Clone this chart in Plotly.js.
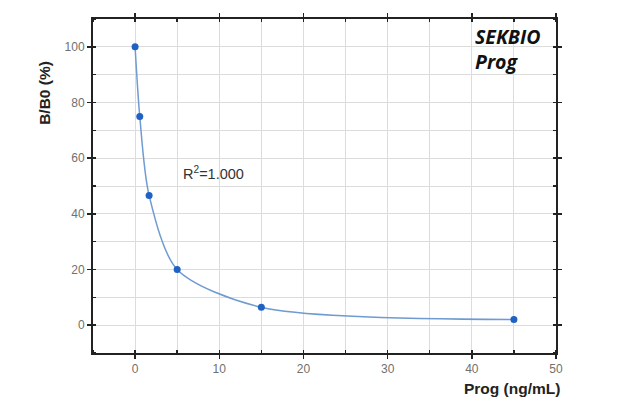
<!DOCTYPE html>
<html>
<head>
<meta charset="utf-8">
<script src="https://cdn.plot.ly/plotly-3.0.1.min.js"></script>
<style>html,body{margin:0;padding:0;background:#fff;}#chart{width:631px;height:406px;}</style>
</head>
<body>
<div id="chart"></div>
<script>
// Data
const concentration = [0, 0.556, 1.667, 5, 15, 45];   // Prog (ng/mL)
const bOverB0 = [100, 75, 46.6, 20, 6.4, 2.0];         // B/B0 (%)
const xTickVals = [0, 10, 20, 30, 40, 50];
const yTickVals = [0, 20, 40, 60, 80, 100];

const curve = {
  x: concentration, y: bOverB0, type: 'scatter', mode: 'lines',
  line: {shape: 'spline', smoothing: 0.8, color: '#6f9bd1', width: 1.5},
  hoverinfo: 'skip', showlegend: false
};
const pts = {
  x: concentration, y: bOverB0, type: 'scatter', mode: 'markers',
  marker: {color: '#1f62c4', size: 7}, showlegend: false
};

const axisCommon = {
  showline: true, linecolor: '#222', linewidth: 2, mirror: 'ticks',
  ticks: 'outside', ticklen: 4, tickwidth: 1.5, tickcolor: '#222',
  gridcolor: '#dcdcdc', gridwidth: 1, zeroline: false,
  tickfont: {family: 'Liberation Sans, Arial, sans-serif', size: 12, color: '#707070'}
};

const layout = {
  width: 631, height: 406,
  margin: {l: 93, r: 75, t: 19, b: 53},
  paper_bgcolor: '#fff', plot_bgcolor: '#fff',
  xaxis: Object.assign({}, axisCommon, {
    range: [-5, 50], tickvals: xTickVals,
    minor: {dtick: 5, tick0: 0, ticks: 'inside', ticklen: 3, tickcolor: '#222', showgrid: true, gridcolor: '#dcdcdc'}
  }),
  yaxis: Object.assign({}, axisCommon, {
    range: [-10, 110], tickvals: yTickVals,
    minor: {dtick: 10, tick0: 0, ticks: 'inside', ticklen: 3, tickcolor: '#222', showgrid: true, gridcolor: '#dcdcdc'}
  }),
  annotations: [
    {xref: 'x', yref: 'y', x: 5.5, y: 54.7, text: 'R<sup>2</sup>=1.000', showarrow: false,
     xanchor: 'left', yanchor: 'middle',
     font: {family: 'Liberation Sans, Arial, sans-serif', size: 14.5, color: '#333'}},
    {xref: 'paper', yref: 'paper', x: 0.82, y: 0.995, text: '<b><i>SEKBIO</i></b><br><b><i>Prog</i></b>',
     showarrow: false, xanchor: 'left', yanchor: 'top', align: 'left',
     font: {family: 'Open Sans, sans-serif', size: 19.5, color: '#111'}},
    {xref: 'paper', yref: 'paper', x: -0.105, y: 0.78, text: '<b>B/B0 (%)</b>', textangle: -90,
     showarrow: false, xanchor: 'center', yanchor: 'middle',
     font: {family: 'Liberation Sans, Arial, sans-serif', size: 15.5, color: '#222'}},
    {xref: 'paper', yref: 'paper', x: 1.012, y: -0.105, text: '<b>Prog (ng/mL)</b>',
     showarrow: false, xanchor: 'right', yanchor: 'middle',
     font: {family: 'Liberation Sans, Arial, sans-serif', size: 15.5, color: '#222'}}
  ]
};

Plotly.newPlot('chart', [curve, pts], layout, {displayModeBar: false, staticPlot: true});
</script>
</body>
</html>
